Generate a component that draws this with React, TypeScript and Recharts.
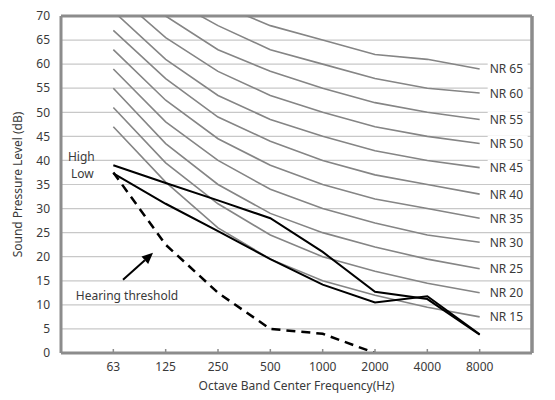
import React from 'react';
import { LineChart, Line, XAxis, YAxis, CartesianGrid, ReferenceLine } from 'recharts';

const freqs = ['63', '125', '250', '500', '1000', '2000', '4000', '8000'];
const yTicks = [0, 5, 10, 15, 20, 25, 30, 35, 40, 45, 50, 55, 60, 65, 70];

const nr15 = [47, 35.5, 26, 19.5, 15, 12, 9.5, 7.5];
const nr20 = [51, 39.5, 31, 24.5, 20, 17, 14.5, 12.5];
const nr25 = [55, 43.5, 35, 29, 25, 22, 19.5, 17.5];
const nr30 = [59, 48, 40, 34, 30, 27, 24.5, 23];
const nr35 = [63, 52.5, 44.5, 39, 35, 32, 30, 28];
const nr40 = [67, 57, 49, 44, 40, 37, 35, 33];
const nr45 = [71, 61, 53.5, 48.5, 45, 42, 40, 38.5];
const nr50 = [75, 65.5, 58.5, 53.5, 50, 47, 45, 43.5];
const nr55 = [79, 70, 63, 58.5, 55, 52, 50, 48.5];
const nr60 = [83, 74, 68, 63, 60, 57, 55, 54];
const nr65 = [87, 78.5, 72.5, 68, 65, 62, 61, 59];

const high = [39, 35.3, 31.7, 28, 21, 12.7, 11.2, 3.8];
const low = [37.3, 31, 25.3, 19.5, 14.2, 10.5, 11.8, 3.9];
const threshold = [37.5, 22.5, 12.5, 5, 4, 0, null, null];

const nrCurves = [
  { key: 'nr15', name: 'NR 15', values: nr15 },
  { key: 'nr20', name: 'NR 20', values: nr20 },
  { key: 'nr25', name: 'NR 25', values: nr25 },
  { key: 'nr30', name: 'NR 30', values: nr30 },
  { key: 'nr35', name: 'NR 35', values: nr35 },
  { key: 'nr40', name: 'NR 40', values: nr40 },
  { key: 'nr45', name: 'NR 45', values: nr45 },
  { key: 'nr50', name: 'NR 50', values: nr50 },
  { key: 'nr55', name: 'NR 55', values: nr55 },
  { key: 'nr60', name: 'NR 60', values: nr60 },
  { key: 'nr65', name: 'NR 65', values: nr65 },
];

const data = freqs.map((f, i) => {
  const row: any = { pos: i + 1, freq: f, high: high[i], low: low[i], threshold: threshold[i] };
  nrCurves.forEach((c) => {
    row[c.key] = c.values[i];
  });
  return row;
});

const FONT = '"Noto Sans", sans-serif';
const TEXT = '#3a3a3a';
const AXIS = '#8c8c8c';
const CURVE = '#858585';

const XTick = (props: any) => {
  const { x, y, payload } = props;
  return (
    <g>
      <line x1={x} x2={x} y1={y - 4} y2={y} stroke={AXIS} strokeWidth={1.5} />
      <text x={x} y={y + 18} textAnchor="middle" fontSize={12} fontFamily={FONT} fill={TEXT}>
        {freqs[payload.value - 1]}
      </text>
    </g>
  );
};

const nrLabel = (name: string) => (props: any) => {
  const { x, y, index } = props;
  if (index !== 7) return <g />;
  return (
    <g>
      <rect x={x + 8} y={y - 8} width={40} height={16} fill="#fff" />
      <text x={x + 10} y={y + 4.5} fontSize={12} fontFamily={FONT} fill={TEXT}>
        {name}
      </text>
    </g>
  );
};

const sideLabel = (text: string, dx: number, dy: number) => (props: any) => {
  const { x, y, index } = props;
  if (index !== 0) return <g />;
  return (
    <text x={x + dx} y={y + dy} textAnchor="middle" fontSize={12} fontFamily={FONT} fill={TEXT}>
      {text}
    </text>
  );
};

const Arrow = (props: any) => {
  const { x1, y1, x2, y2 } = props;
  const len = Math.hypot(x2 - x1, y2 - y1);
  const ux = (x2 - x1) / len;
  const uy = (y2 - y1) / len;
  const bx = x2 - ux * 11;
  const by = y2 - uy * 11;
  const px = -uy * 5;
  const py = ux * 5;
  return (
    <g>
      <line x1={x1} y1={y1} x2={bx} y2={by} stroke="#000" strokeWidth={2} />
      <polygon points={`${x2},${y2} ${bx + px},${by + py} ${bx - px},${by - py}`} fill="#000" />
      <text x={x1 + 4} y={y1 + 20} textAnchor="middle" fontSize={12} fontFamily={FONT} fill={TEXT}>
        Hearing threshold
      </text>
    </g>
  );
};

export default function App() {
  return (
    <div style={{ width: 547, height: 392 }}>
      <LineChart width={547} height={392} data={data} margin={{ top: 8, right: 0, left: 0, bottom: 7 }}>
        <CartesianGrid vertical={false} stroke="#c8c8c8" strokeWidth={1.2} />
        <XAxis
          dataKey="pos"
          type="number"
          domain={[0, 9]}
          ticks={[1, 2, 3, 4, 5, 6, 7, 8]}
          height={40}
          tickSize={0}
          tickMargin={0}
          tickLine={false}
          tick={<XTick />}
          axisLine={{ stroke: AXIS, strokeWidth: 3 }}
          label={{ value: 'Octave Band Center Frequency(Hz)', position: 'insideBottom', offset: 3, fontSize: 12, fontFamily: FONT, fill: TEXT }}
        />
        <YAxis
          domain={[0, 70]}
          ticks={yTicks}
          allowDataOverflow
          width={53}
          tickLine={false}
          tickSize={6}
          tickMargin={5}
          axisLine={{ stroke: AXIS, strokeWidth: 3 }}
          tick={{ fontSize: 12, fontFamily: FONT, fill: TEXT }}
          label={{ value: 'Sound Pressure Level (dB)', angle: -90, position: 'insideLeft', offset: 10, style: { textAnchor: 'middle' }, fontSize: 12, fontFamily: FONT, fill: TEXT }}
        />
        <YAxis
          yAxisId="r"
          orientation="right"
          domain={[0, 70]}
          ticks={yTicks}
          width={23}
          tickSize={5}
          tickMargin={3}
          tickLine={{ stroke: AXIS, strokeWidth: 1.5 }}
          axisLine={{ stroke: AXIS, strokeWidth: 3 }}
          tick={{ fontSize: 12, fontFamily: FONT, fill: TEXT, textAnchor: 'start' }}
        />
        <ReferenceLine y={70} stroke={AXIS} strokeWidth={3} />
        <ReferenceLine x={9} stroke={AXIS} strokeWidth={3} />
        {nrCurves.map((c) => (
          <Line
            key={c.key}
            dataKey={c.key}
            stroke={CURVE}
            strokeWidth={1.6}
            dot={false}
            isAnimationActive={false}
            label={nrLabel(c.name)}
          />
        ))}
        <Line dataKey="high" stroke="#000" strokeWidth={2} dot={false} isAnimationActive={false} label={sideLabel('High', -32, -4)} />
        <Line dataKey="low" stroke="#000" strokeWidth={2} dot={false} isAnimationActive={false} label={sideLabel('Low', -31, 5)} />
        <Line
          dataKey="threshold"
          stroke="#000"
          strokeWidth={2.5}
          strokeDasharray="9 6"
          dot={false}
          connectNulls={false}
          isAnimationActive={false}
        />
        <ReferenceLine
          segment={[
            { x: 1.185, y: 15.2 },
            { x: 1.758, y: 20.8 },
          ]}
          shape={<Arrow />}
        />
      </LineChart>
    </div>
  );
}
